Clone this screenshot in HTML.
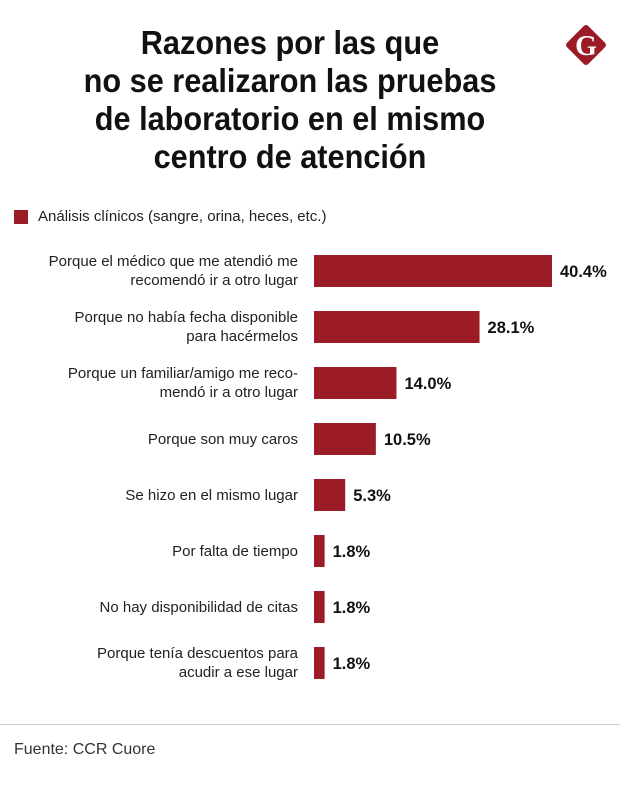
<!DOCTYPE html>
<html><head><meta charset="utf-8"><style>
body{margin:0;width:620px;height:791px;background:#fff;font-family:"Liberation Sans",sans-serif;position:relative;overflow:hidden;color:#111}
#title{position:absolute;left:0;top:24px;width:580px;text-align:center;font-weight:bold;font-size:33px;line-height:38px;transform:scaleX(0.93);transform-origin:290px 0;color:#111}
.lbl{position:absolute;right:322px;text-align:right;font-size:15px;line-height:19px;color:#222}
</style></head><body>
<div id="title">Razones por las que<br>no se realizaron las pruebas<br>de laboratorio en el mismo<br>centro de atención</div>
<svg style="position:absolute;left:561px;top:20px" width="50" height="50" viewBox="0 0 50 50"><rect x="10" y="10" width="30" height="30" rx="3" transform="rotate(45 25 25)" fill="#9b1c26"/><text x="25" y="35" text-anchor="middle" font-family="Liberation Serif" font-weight="bold" font-size="28" fill="#fff">G</text></svg>
<div style="position:absolute;left:14px;top:210px;width:14px;height:14px;background:#9b1c26"></div>
<div style="position:absolute;left:38px;top:208px;font-size:15px;color:#222">Análisis clínicos (sangre, orina, heces, etc.)</div>
<div id="labels"></div>
<svg id="chart" style="position:absolute;left:0;top:0" width="620" height="791"></svg>
<div style="position:absolute;left:0;top:724px;width:620px;height:1px;background:#ccc"></div>
<div style="position:absolute;left:14px;top:741px;font-size:16px;color:#333">Fuente: CCR Cuore</div>
<script>
const categories=["Porque el médico que me atendió me<br>recomendó ir a otro lugar","Porque no había fecha disponible<br>para hacérmelos","Porque un familiar/amigo me reco-<br>mendó ir a otro lugar","Porque son muy caros","Se hizo en el mismo lugar","Por falta de tiempo","No hay disponibilidad de citas","Porque tenía descuentos para<br>acudir a ese lugar"];
const values=[40.4,28.1,14.0,10.5,5.3,1.8,1.8,1.8];
const valueLabels=["40.4%","28.1%","14.0%","10.5%","5.3%","1.8%","1.8%","1.8%"];
const x0=314,scale=238/40.4,y0=255,pitch=56,bh=32;
const xf=v=>x0+v*scale, yf=i=>y0+i*pitch;
const svg=document.getElementById('chart'),NS="http://www.w3.org/2000/svg";
const lab=document.getElementById('labels');
values.forEach((v,i)=>{
 const r=document.createElementNS(NS,'rect');
 
 
 r.setAttribute('x',x0);r.setAttribute('y',yf(i));r.setAttribute('width',xf(v)-x0);r.setAttribute('height',bh);r.setAttribute('fill','#9b1c26');svg.appendChild(r);
 const t=document.createElementNS(NS,'text');
 
 
 t.setAttribute('x',xf(v)+8);t.setAttribute('y',yf(i)+bh/2+6);t.setAttribute('font-size','16.5');t.setAttribute('font-weight','bold');t.setAttribute('fill','#111');t.setAttribute('font-family','Liberation Sans');t.textContent=valueLabels[i];svg.appendChild(t);
 const d=document.createElement('div');
 
 
 d.className='lbl';d.innerHTML=categories[i];
 const lines=categories[i].split('<br>').length;
 d.style.top=(yf(i)+bh/2-lines*19/2)+'px';lab.appendChild(d);
});
</script>
</body></html>
